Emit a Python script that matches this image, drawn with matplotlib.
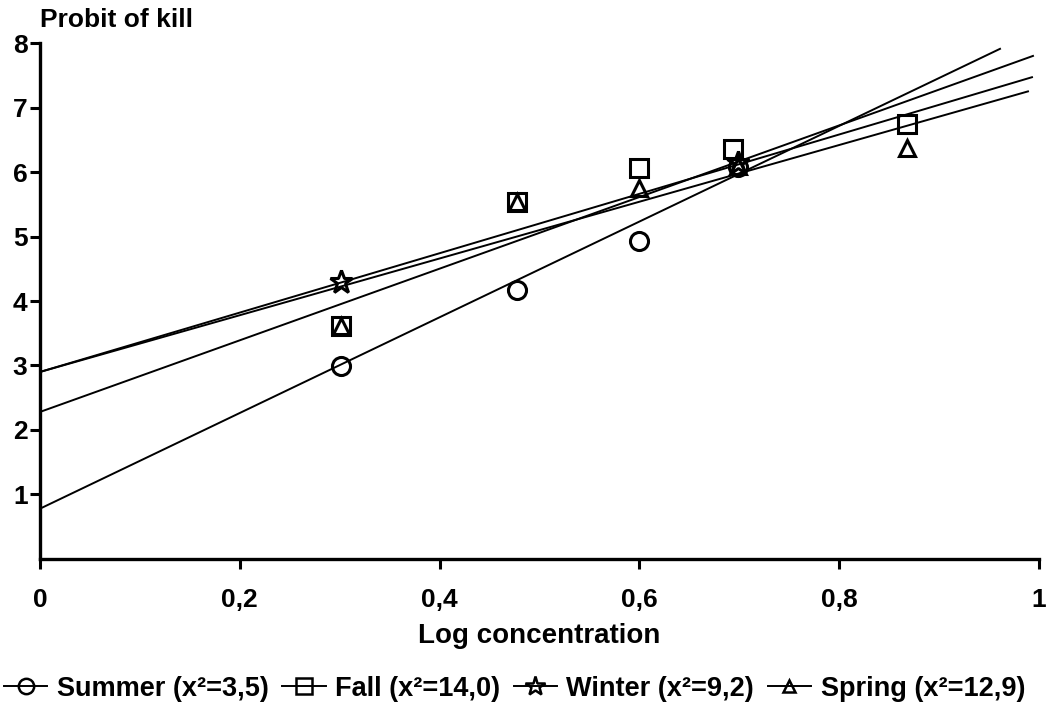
import matplotlib
matplotlib.use('Agg')
import matplotlib.pyplot as plt
from matplotlib.lines import Line2D

plt.rcParams['font.family'] = ['Liberation Sans', 'DejaVu Sans']

# points
summer_x = [0.301, 0.477, 0.600, 0.699]
summer_y = [2.99, 4.17, 4.93, 6.08]
fall_x = [0.301, 0.477, 0.600, 0.694, 0.868]
fall_y = [3.62, 5.53, 6.06, 6.36, 6.74]
winter_x = [0.301, 0.699]
winter_y = [4.29, 6.14]
spring_x = [0.301, 0.477, 0.600, 0.699, 0.868]
spring_y = [3.62, 5.53, 5.75, 6.10, 6.37]

# fitted lines: (x start, x end), (y start, y end)
summer_line = ([0, 0.961], [0.78, 7.91])
fall_line = ([0, 0.994], [2.28, 7.80])
winter_line = ([0, 0.993], [2.90, 7.47])
spring_line = ([0, 0.989], [2.90, 7.25])

labels = ['Summer (x²=3,5)', 'Fall (x²=14,0)', 'Winter (x²=9,2)', 'Spring (x²=12,9)']
markers = ['o', 's', '*', '^']
msizes = [13, 13, 17, 11]

xticks = [0, 0.2, 0.4, 0.6, 0.8, 1]
xtick_labels = ['0', '0,2', '0,4', '0,6', '0,8', '1']
yticks = [1, 2, 3, 4, 5, 6, 7, 8]

fig = plt.figure(figsize=(10.5, 7.1), dpi=100)
ax = fig.add_axes([0.0381, 0.2127, 0.9514, 0.7267])

for lx, ly in [summer_line, fall_line, winter_line, spring_line]:
    ax.plot(lx, ly, color='black', lw=1.4, zorder=2)

series = [(summer_x, summer_y), (fall_x, fall_y), (winter_x, winter_y), (spring_x, spring_y)]
for (sx, sy), m, ms in zip(series, markers, msizes):
    ax.plot(sx, sy, linestyle='none', marker=m, ms=ms, mfc='none', mec='black',
            mew=2.2, zorder=3)

ax.set_xlim(0, 1)
ax.set_ylim(0, 8)
ax.set_xticks(xticks)
ax.set_xticklabels(xtick_labels)
ax.set_yticks(yticks)
for s in ['top', 'right']:
    ax.spines[s].set_visible(False)
for s in ['left', 'bottom']:
    ax.spines[s].set_linewidth(2.4)
ax.tick_params(axis='both', width=2.2, length=7, labelsize=19)
ax.tick_params(axis='x', pad=14)
ax.tick_params(axis='y', pad=2)
for t in ax.get_xticklabels() + ax.get_yticklabels():
    t.set_fontweight('bold')

ax.set_xlabel('Log concentration', fontsize=20, fontweight='bold', labelpad=8)
fig.text(0.0381, 0.972, 'Probit of kill', fontsize=19, fontweight='bold',
         ha='left', va='center')

handles = [Line2D([], [], color='black', lw=1.4, marker=m, ms=ms * 0.85, mfc='none',
                  mec='black', mew=1.8) for m, ms in zip(markers, msizes)]
fig.legend(handles, labels, loc='center', bbox_to_anchor=(0.49, 0.03), ncol=4,
           frameon=False, handlelength=1.6, handletextpad=0.35, columnspacing=0.5,
           prop={'family': ['Liberation Sans Narrow', 'Liberation Sans', 'DejaVu Sans'],
                 'weight': 'bold', 'size': 19.5})

fig.savefig('out.png', dpi=100)
